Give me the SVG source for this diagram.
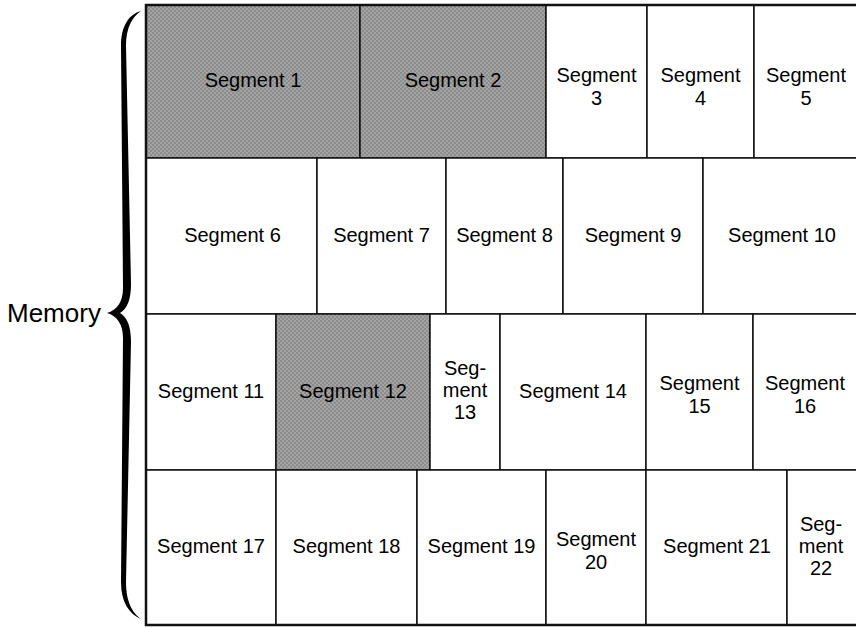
<svg xmlns="http://www.w3.org/2000/svg" width="856" height="628" viewBox="0 0 856 628">
<defs>
<pattern id="halftone" width="4" height="4" patternUnits="userSpaceOnUse">
<rect width="4" height="4" fill="#a4a4a4"/>
<rect width="2" height="2" fill="#8c8c8c"/>
<rect x="2" y="2" width="2" height="2" fill="#8c8c8c"/>
</pattern>
</defs>
<style>
.c{fill:#fff;stroke:#111;stroke-width:1.5}
.s{fill:url(#halftone);stroke:#111;stroke-width:1.5}
text{font-family:"Liberation Sans",Arial,Helvetica,sans-serif;font-size:20px;fill:#000;text-anchor:middle}
.lbl{font-size:26px;text-anchor:start}
</style>
<rect width="856" height="628" fill="#fff"/>
<g id="memory-label">
<text class="lbl" x="7" y="322">Memory</text>
<path d="M141,11 C129,14 121,26 121,46 L123,288 C123,302 117,310 107,313 C117,316 123,324 123,338 L121,582 C121,602 129,614 141,619 C133,613 126,603 126,582 L131,342 C131,326 127,317 120,313 C127,309 131,300 131,284 L126,46 C126,28 132,17 141,11 Z" fill="#000"/>
</g>
<g id="seg1"><rect class="s" x="146" y="5" width="214" height="153"/><text x="253" y="87">Segment 1</text></g>
<g id="seg2"><rect class="s" x="360" y="5" width="186" height="153"/><text x="453" y="87">Segment 2</text></g>
<g id="seg3"><rect class="c" x="546" y="5" width="101" height="153"/><text x="596.5" y="82">Segment</text><text x="596.5" y="105">3</text></g>
<g id="seg4"><rect class="c" x="647" y="5" width="107" height="153"/><text x="700.5" y="82">Segment</text><text x="700.5" y="105">4</text></g>
<g id="seg5"><rect class="c" x="754" y="5" width="104" height="153"/><text x="806" y="82">Segment</text><text x="806" y="105">5</text></g>
<g id="seg6"><rect class="c" x="146" y="158" width="171" height="156"/><text x="232.5" y="242">Segment 6</text></g>
<g id="seg7"><rect class="c" x="317" y="158" width="129" height="156"/><text x="381.5" y="242">Segment 7</text></g>
<g id="seg8"><rect class="c" x="446" y="158" width="117" height="156"/><text x="504.5" y="242">Segment 8</text></g>
<g id="seg9"><rect class="c" x="563" y="158" width="140" height="156"/><text x="633" y="242">Segment 9</text></g>
<g id="seg10"><rect class="c" x="703" y="158" width="155" height="156"/><text x="782" y="242">Segment 10</text></g>
<g id="seg11"><rect class="c" x="146" y="314" width="130" height="156"/><text x="211" y="398">Segment 11</text></g>
<g id="seg12"><rect class="s" x="276" y="314" width="154" height="156"/><text x="353" y="398">Segment 12</text></g>
<g id="seg13"><rect class="c" x="430" y="314" width="70" height="156"/><text x="465" y="375">Seg-</text><text x="465" y="397">ment</text><text x="465" y="419">13</text></g>
<g id="seg14"><rect class="c" x="500" y="314" width="146" height="156"/><text x="573" y="398">Segment 14</text></g>
<g id="seg15"><rect class="c" x="646" y="314" width="107" height="156"/><text x="699.5" y="390">Segment</text><text x="699.5" y="413">15</text></g>
<g id="seg16"><rect class="c" x="753" y="314" width="105" height="156"/><text x="805" y="390">Segment</text><text x="805" y="413">16</text></g>
<g id="seg17"><rect class="c" x="146" y="470" width="130" height="155"/><text x="211" y="553">Segment 17</text></g>
<g id="seg18"><rect class="c" x="276" y="470" width="141" height="155"/><text x="346.5" y="553">Segment 18</text></g>
<g id="seg19"><rect class="c" x="417" y="470" width="129" height="155"/><text x="481.5" y="553">Segment 19</text></g>
<g id="seg20"><rect class="c" x="546" y="470" width="100" height="155"/><text x="596" y="546">Segment</text><text x="596" y="569">20</text></g>
<g id="seg21"><rect class="c" x="646" y="470" width="141" height="155"/><text x="717" y="553">Segment 21</text></g>
<g id="seg22"><rect class="c" x="787" y="470" width="71" height="155"/><text x="821" y="531">Seg-</text><text x="821" y="553">ment</text><text x="821" y="575">22</text></g>
<g id="frame"><path d="M858,5 H146 V625 H858" fill="none" stroke="#111" stroke-width="2.5"/></g>
</svg>
